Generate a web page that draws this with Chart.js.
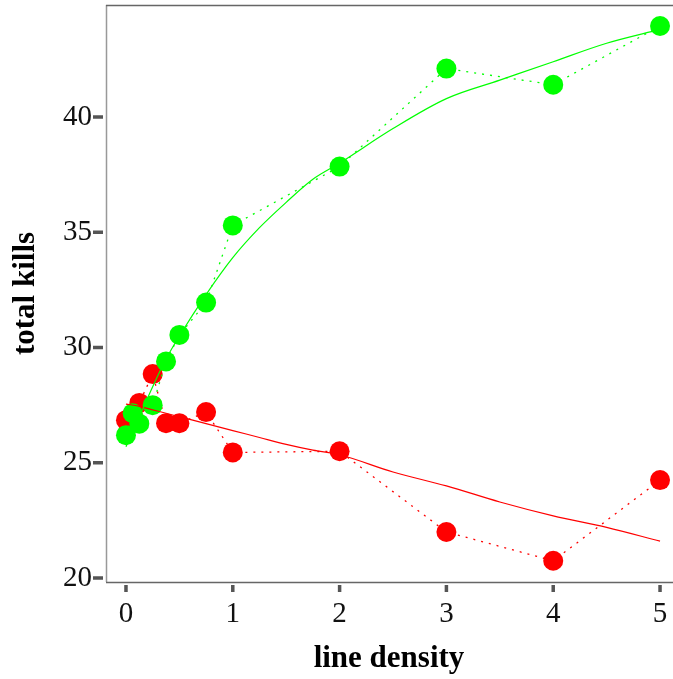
<!DOCTYPE html>
<html>
<head>
<meta charset="utf-8">
<script src="https://cdn.jsdelivr.net/npm/chart.js@4.4.0/dist/chart.umd.min.js"></script>
<style>
  html, body { margin: 0; padding: 0; background: #fff; }
  #wrap { width: 673px; height: 679px; }
</style>
</head>
<body>
<div id="wrap"><canvas id="chart" width="673" height="679"></canvas></div>
<script>
// measured points
const density = [0, 0.0625, 0.125, 0.25, 0.375, 0.5, 0.75, 1, 2, 3, 4, 5];
const greenKills = [26.2, 27.15, 26.7, 27.5, 29.4, 30.55, 31.95, 35.3, 37.85, 42.1, 41.4, 43.95];
const redKills = [26.85, 27.1, 27.6, 28.85, 26.72, 26.72, 27.2, 25.45, 25.5, 22.0, 20.75, 24.25];

// smoothed fit lines
const fitDensity = [0, 0.125, 0.25, 0.375, 0.5, 0.75, 1, 1.25, 1.5, 1.75, 2, 2.5, 3, 3.5, 4, 4.5, 5];
const greenFit = [25.7, 27.0, 28.3, 29.5, 30.5, 32.3, 33.9, 35.2, 36.3, 37.3, 38.0, 39.5, 40.8, 41.6, 42.4, 43.2, 43.8];
const redFit = [27.55, 27.45, 27.3, 27.15, 27.0, 26.7, 26.4, 26.1, 25.8, 25.55, 25.35, 24.6, 24.0, 23.3, 22.7, 22.2, 21.6];

const xTicks = [0, 1, 2, 3, 4, 5];
const yTicks = [20, 25, 30, 35, 40];

const GREEN = '#00ff00';
const RED = '#ff0000';
const SERIF = '"Liberation Serif", "DejaVu Serif", serif';

const pts = (xs, ys) => xs.map((x, i) => ({ x: x, y: ys[i] }));

// no extra room for edge labels, the plot box is fixed
const noPad = s => {
    s.paddingTop = 0;
    s.paddingBottom = 0;
    s.paddingLeft = 0;
    s.paddingRight = 0;
};

// frame + offset tick marks
const framePlugin = {
    id: 'frame',
    afterDraw(chart) {
        const { ctx, chartArea: a, scales } = chart;
        ctx.save();
        ctx.lineWidth = 1.5;
        ctx.strokeStyle = '#999';
        ctx.beginPath();
        ctx.moveTo(a.left + 0.5, a.top);
        ctx.lineTo(a.left + 0.5, a.bottom);
        ctx.stroke();
        ctx.strokeStyle = '#666';
        ctx.beginPath();
        ctx.moveTo(a.left, a.top + 0.5);
        ctx.lineTo(a.right + 2, a.top + 0.5);
        ctx.moveTo(a.left, a.bottom + 0.5);
        ctx.lineTo(a.right + 2, a.bottom + 0.5);
        ctx.stroke();

        ctx.strokeStyle = '#555';
        ctx.lineWidth = 3.5;
        ctx.beginPath();
        xTicks.forEach(v => {
            const px = scales.x.getPixelForValue(v);
            ctx.moveTo(px, a.bottom + 3);
            ctx.lineTo(px, a.bottom + 10);
        });
        yTicks.forEach(v => {
            const py = scales.y.getPixelForValue(v);
            ctx.moveTo(a.left - 13, py);
            ctx.lineTo(a.left - 3, py);
        });
        ctx.stroke();
        ctx.restore();
    }
};

new Chart(document.getElementById('chart'), {
    type: 'scatter',
    data: {
        datasets: [
            {
                label: 'green fit',
                data: pts(fitDensity, greenFit),
                showLine: true,
                borderColor: GREEN,
                borderWidth: 1.2,
                pointRadius: 0,
                cubicInterpolationMode: 'monotone',
                order: 0
            },
            {
                label: 'red fit',
                data: pts(fitDensity, redFit),
                showLine: true,
                borderColor: RED,
                borderWidth: 1.2,
                pointRadius: 0,
                cubicInterpolationMode: 'monotone',
                order: 1
            },
            {
                label: 'green',
                data: pts(density, greenKills),
                showLine: true,
                borderColor: GREEN,
                borderWidth: 1.3,
                borderDash: [2, 6],
                backgroundColor: GREEN,
                pointRadius: 10,
                pointBorderWidth: 0,
                order: 2
            },
            {
                label: 'red',
                data: pts(density, redKills),
                showLine: true,
                borderColor: RED,
                borderWidth: 1.3,
                borderDash: [2, 6],
                backgroundColor: RED,
                pointRadius: 10,
                pointBorderWidth: 0,
                order: 3
            }
        ]
    },
    options: {
        responsive: false,
        animation: false,
        devicePixelRatio: 1,
        layout: { autoPadding: false, padding: { left: 0, top: 5, right: 1, bottom: 0 } },
        plugins: {
            legend: { display: false },
            tooltip: { enabled: false }
        },
        scales: {
            x: {
                type: 'linear',
                min: -0.187,
                max: 5.112,
                afterFit: s => { s.height = 97; noPad(s); },
                afterBuildTicks: s => { s.ticks = xTicks.map(v => ({ value: v })); },
                grid: { display: false, drawTicks: false, tickLength: 0 },
                border: { display: false },
                ticks: {
                    color: '#111',
                    font: { family: SERIF, size: 29 },
                    padding: 15,
                    maxRotation: 0,
                    autoSkip: false
                },
                title: {
                    display: true,
                    text: 'line density',
                    color: '#000',
                    font: { family: SERIF, size: 31, weight: 'bold' },
                    padding: { top: 0, bottom: 1 }
                }
            },
            y: {
                type: 'linear',
                min: 19.83,
                max: 44.86,
                afterFit: s => { s.width = 106; noPad(s); },
                afterBuildTicks: s => { s.ticks = yTicks.map(v => ({ value: v })); },
                grid: { display: false, drawTicks: false, tickLength: 0 },
                border: { display: false },
                ticks: {
                    color: '#111',
                    font: { family: SERIF, size: 29 },
                    padding: 14,
                    autoSkip: false
                },
                title: {
                    display: true,
                    text: 'total kills',
                    color: '#000',
                    font: { family: SERIF, size: 31, weight: 'bold' },
                    padding: { top: 7, bottom: 0 }
                }
            }
        }
    },
    plugins: [framePlugin]
});
</script>
</body>
</html>
